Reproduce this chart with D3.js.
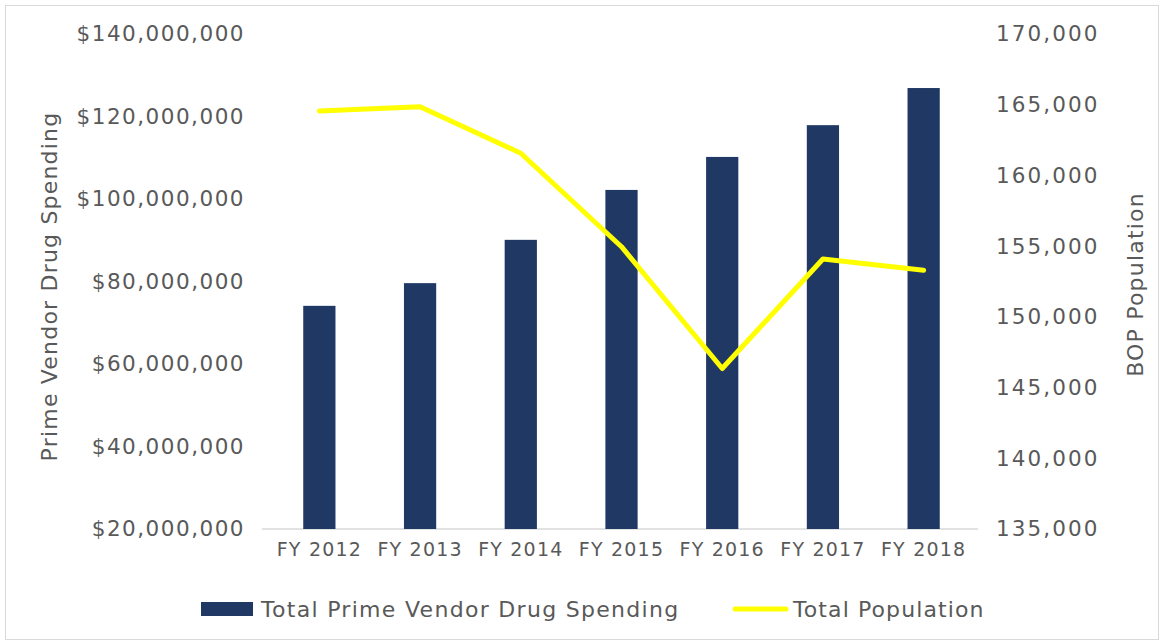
<!DOCTYPE html>
<html>
<head>
<meta charset="utf-8">
<script src="https://cdn.jsdelivr.net/npm/d3@7"></script>
<style>
    body { margin: 0; background: #fff; }
    text { font-family: "DejaVu Sans", Verdana, sans-serif; fill: #595959; }
</style>
</head>
<body>
<svg id="chart" width="1164" height="643"></svg>
<script>
"use strict";
// data
var years = ["FY 2012", "FY 2013", "FY 2014", "FY 2015", "FY 2016", "FY 2017", "FY 2018"];
var spending = [74100000, 79600000, 90100000, 102200000, 110200000, 117900000, 126900000];
var population = [164560, 164860, 161570, 154960, 146350, 154090, 153300];
var leftTicks = [20000000, 40000000, 60000000, 80000000, 100000000, 120000000, 140000000];
var rightTicks = [135000, 140000, 145000, 150000, 155000, 160000, 165000, 170000];

var svg = d3.select("#chart"),
    width = +svg.attr("width"),
    height = +svg.attr("height");

var margin = {top: 34, left: 269, right: 190, bottom: 114};
var plotW = width - margin.left - margin.right,
    plotH = height - margin.top - margin.bottom;

// light frame round the whole chart
svg.append("rect")
    .attr("x", 5.5).attr("y", 5.5)
    .attr("width", width - 11).attr("height", height - 9)
    .attr("fill", "none")
    .attr("stroke", "#d9d9d9");

var g = svg.append("g")
    .attr("transform", "translate(" + margin.left + "," + margin.top + ")");

var x = d3.scaleBand().domain(years).range([0, plotW]).paddingInner(0.68).paddingOuter(0.34);
var yL = d3.scaleLinear().domain([20000000, 140000000]).range([plotH, 0]);
var yR = d3.scaleLinear().domain([135000, 170000]).range([plotH, 0]);

var dollar = d3.format("$,");
var comma = d3.format(",");

// left axis
var axL = g.append("g").call(d3.axisLeft(yL).tickValues(leftTicks).tickFormat(dollar).tickSize(0).tickPadding(24));
axL.select(".domain").remove();
axL.selectAll("text").style("font-size", "21.5px").style("letter-spacing", "1.5px").attr("font-family", null);

// right axis
var axR = g.append("g").attr("transform", "translate(" + plotW + ",0)")
    .call(d3.axisRight(yR).tickValues(rightTicks).tickFormat(comma).tickSize(0).tickPadding(22));
axR.select(".domain").remove();
axR.selectAll("text").style("font-size", "21.5px").style("letter-spacing", "2.1px").attr("font-family", null);

// bottom axis
var axB = g.append("g").attr("transform", "translate(0," + plotH + ")")
    .call(d3.axisBottom(x).tickSize(0).tickPadding(14));
axB.select(".domain").attr("stroke", "#d9d9d9").attr("stroke-width", 1.5)
    .attr("d", "M-7,0H" + (plotW + 4));
axB.selectAll("text").style("font-size", "19px").style("letter-spacing", "1.2px").attr("font-family", null);

// bars
g.append("g").selectAll("rect")
    .data(spending)
    .enter().append("rect")
    .attr("x", function(d, i) { return x(years[i]); })
    .attr("y", function(d) { return yL(d); })
    .attr("width", x.bandwidth())
    .attr("height", function(d) { return plotH - yL(d); })
    .attr("fill", "#1f3864");

// population line
var line = d3.line()
    .x(function(d, i) { return x(years[i]) + x.bandwidth() / 2; })
    .y(function(d) { return yR(d); });

g.append("path")
    .datum(population)
    .attr("d", line)
    .attr("fill", "none")
    .attr("stroke", "#ffff00")
    .attr("stroke-width", 5)
    .attr("stroke-linecap", "round")
    .attr("stroke-linejoin", "round");

// axis titles
svg.append("text")
    .attr("transform", "translate(57," + (margin.top + plotH / 2 + 5) + ") rotate(-90)")
    .attr("text-anchor", "middle")
    .style("font-size", "22px")
    .style("letter-spacing", "1.2px")
    .text("Prime Vendor Drug Spending");

svg.append("text")
    .attr("transform", "translate(1143," + (margin.top + plotH / 2 + 3) + ") rotate(-90)")
    .attr("text-anchor", "middle")
    .style("font-size", "22px")
    .style("letter-spacing", "1.2px")
    .text("BOP Population");

// legend
var leg = svg.append("g").attr("transform", "translate(0,609)");
leg.append("rect").attr("x", 201).attr("y", -7).attr("width", 52).attr("height", 14).attr("fill", "#1f3864");
leg.append("text").attr("x", 261).attr("y", 8).style("font-size", "22px").style("letter-spacing", "1.3px")
    .text("Total Prime Vendor Drug Spending");
leg.append("line").attr("x1", 735).attr("x2", 786).attr("y1", 0).attr("y2", 0)
    .attr("stroke", "#ffff00").attr("stroke-width", 5).attr("stroke-linecap", "round");
leg.append("text").attr("x", 793).attr("y", 8).style("font-size", "22px").style("letter-spacing", "1.1px")
    .text("Total Population");
</script>
</body>
</html>
